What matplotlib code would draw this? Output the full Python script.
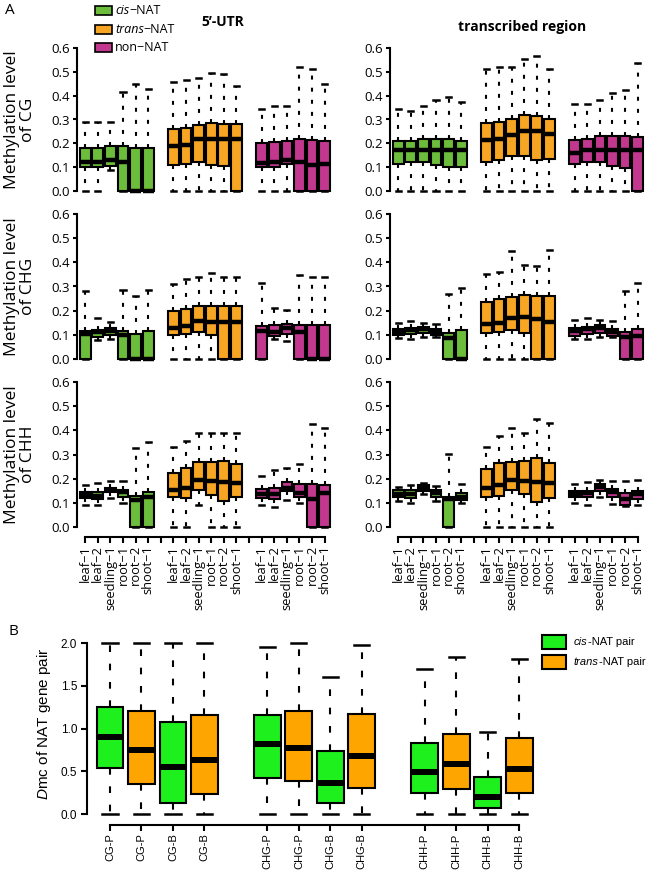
import matplotlib
matplotlib.use("Agg")
import matplotlib.pyplot as plt
from matplotlib.patches import Rectangle
from matplotlib.text import Annotation

plt.rcParams['font.family'] = ['Open Sans', 'DejaVu Sans']
plt.rcParams['mathtext.fontset'] = 'custom'
plt.rcParams['mathtext.it'] = 'Liberation Sans:italic'
plt.rcParams['mathtext.rm'] = 'Liberation Sans'

# ---- panel A data: (whislo, q1, med, q3, whishi), 6 cis, 6 trans, 6 non-NAT
samples = ["leaf−1", "leaf−2", "seedling−1", "root−1", "root−2", "shoot−1"]
contexts = ["CG", "CHG", "CHH"]
colors_a = ["#6cbd3b", "#f7a624", "#c2388f"]

cg_utr = [
    (0.0, 0.10, 0.12, 0.18, 0.29), (0.0, 0.10, 0.12, 0.18, 0.29), (0.09, 0.105, 0.128, 0.19, 0.29),
    (0.0, 0.0, 0.12, 0.187, 0.415), (0.0, 0.0, 0.0, 0.18, 0.45), (0.0, 0.0, 0.0, 0.18, 0.43),
    (0.0, 0.11, 0.19, 0.26, 0.457), (0.0, 0.115, 0.195, 0.265, 0.465), (0.0, 0.12, 0.22, 0.275, 0.475),
    (0.0, 0.11, 0.22, 0.285, 0.495), (0.0, 0.105, 0.22, 0.28, 0.49), (0.0, 0.0, 0.22, 0.28, 0.44),
    (0.0, 0.10, 0.117, 0.20, 0.345), (0.0, 0.10, 0.12, 0.205, 0.355), (0.0, 0.115, 0.13, 0.21, 0.355),
    (0.0, 0.0, 0.12, 0.22, 0.52), (0.0, 0.0, 0.11, 0.215, 0.51), (0.0, 0.0, 0.115, 0.21, 0.45),
]
cg_tr = [
    (0.0, 0.115, 0.17, 0.21, 0.345), (0.0, 0.12, 0.17, 0.21, 0.335), (0.0, 0.12, 0.17, 0.22, 0.355),
    (0.0, 0.11, 0.17, 0.22, 0.38), (0.0, 0.10, 0.17, 0.22, 0.395), (0.0, 0.10, 0.17, 0.21, 0.375),
    (0.0, 0.12, 0.215, 0.285, 0.51), (0.0, 0.13, 0.22, 0.29, 0.52), (0.0, 0.145, 0.235, 0.30, 0.52),
    (0.0, 0.145, 0.25, 0.32, 0.555), (0.0, 0.13, 0.25, 0.315, 0.565), (0.0, 0.135, 0.24, 0.30, 0.51),
    (0.0, 0.115, 0.16, 0.215, 0.365), (0.0, 0.12, 0.17, 0.22, 0.365), (0.0, 0.12, 0.17, 0.23, 0.38),
    (0.0, 0.105, 0.17, 0.23, 0.41), (0.0, 0.095, 0.17, 0.23, 0.425), (0.0, 0.0, 0.17, 0.225, 0.535),
]
chg_utr = [
    (0.0, 0.0, 0.103, 0.117, 0.28), (0.08, 0.093, 0.11, 0.12, 0.17), (0.082, 0.10, 0.114, 0.128, 0.155),
    (0.0, 0.0, 0.10, 0.117, 0.285), (0.0, 0.0, 0.0, 0.105, 0.26), (0.0, 0.0, 0.0, 0.115, 0.285),
    (0.0, 0.098, 0.13, 0.20, 0.31), (0.0, 0.103, 0.137, 0.208, 0.33), (0.0, 0.11, 0.158, 0.22, 0.34),
    (0.0, 0.10, 0.155, 0.22, 0.355), (0.0, 0.0, 0.155, 0.22, 0.34), (0.0, 0.0, 0.155, 0.22, 0.34),
    (0.0, 0.0, 0.117, 0.135, 0.313), (0.083, 0.094, 0.112, 0.14, 0.21), (0.073, 0.105, 0.128, 0.146, 0.204),
    (0.0, 0.0, 0.11, 0.142, 0.348), (0.0, 0.0, 0.0, 0.142, 0.338), (0.0, 0.0, 0.0, 0.142, 0.338),
]
chg_tr = [
    (0.086, 0.098, 0.112, 0.123, 0.15), (0.082, 0.102, 0.12, 0.13, 0.157), (0.093, 0.106, 0.123, 0.132, 0.15),
    (0.089, 0.098, 0.112, 0.123, 0.146), (0.0, 0.0, 0.086, 0.106, 0.27), (0.0, 0.0, 0.0, 0.119, 0.293),
    (0.0, 0.106, 0.143, 0.236, 0.35), (0.0, 0.113, 0.15, 0.25, 0.36), (0.0, 0.12, 0.168, 0.257, 0.446),
    (0.0, 0.106, 0.173, 0.266, 0.39), (0.0, 0.0, 0.166, 0.26, 0.386), (0.0, 0.0, 0.153, 0.26, 0.45),
    (0.082, 0.095, 0.116, 0.13, 0.16), (0.082, 0.102, 0.123, 0.134, 0.17), (0.091, 0.106, 0.127, 0.139, 0.16),
    (0.089, 0.095, 0.112, 0.125, 0.157), (0.0, 0.0, 0.089, 0.113, 0.28), (0.0, 0.0, 0.095, 0.123, 0.314),
]
chh_utr = [
    (0.092, 0.12, 0.133, 0.143, 0.175), (0.089, 0.117, 0.13, 0.143, 0.181), (0.12, 0.143, 0.154, 0.163, 0.19),
    (0.099, 0.126, 0.144, 0.154, 0.19), (0.0, 0.0, 0.113, 0.13, 0.328), (0.0, 0.0, 0.126, 0.143, 0.353),
    (0.0, 0.126, 0.154, 0.222, 0.332), (0.0, 0.122, 0.16, 0.245, 0.356), (0.092, 0.154, 0.195, 0.268, 0.387),
    (0.0, 0.133, 0.192, 0.268, 0.39), (0.0, 0.108, 0.188, 0.273, 0.39), (0.0, 0.124, 0.181, 0.26, 0.387),
    (0.092, 0.122, 0.137, 0.157, 0.209), (0.082, 0.117, 0.137, 0.163, 0.236), (0.113, 0.147, 0.163, 0.188, 0.246),
    (0.10, 0.125, 0.14, 0.18, 0.26), (0.0, 0.0, 0.115, 0.18, 0.425), (0.0, 0.0, 0.14, 0.175, 0.41),
]
chh_tr = [
    (0.106, 0.123, 0.137, 0.153, 0.165), (0.099, 0.12, 0.137, 0.153, 0.172), (0.137, 0.148, 0.162, 0.172, 0.181),
    (0.106, 0.123, 0.14, 0.153, 0.169), (0.0, 0.0, 0.116, 0.123, 0.304), (0.098, 0.112, 0.126, 0.14, 0.178),
    (0.0, 0.126, 0.16, 0.241, 0.332), (0.0, 0.13, 0.172, 0.265, 0.377), (0.0, 0.153, 0.195, 0.269, 0.409),
    (0.0, 0.137, 0.192, 0.273, 0.39), (0.0, 0.105, 0.185, 0.286, 0.446), (0.0, 0.119, 0.181, 0.265, 0.43),
    (0.099, 0.123, 0.137, 0.151, 0.176), (0.092, 0.123, 0.14, 0.151, 0.185), (0.123, 0.151, 0.167, 0.179, 0.195),
    (0.095, 0.126, 0.144, 0.158, 0.19), (0.088, 0.092, 0.116, 0.14, 0.192), (0.092, 0.116, 0.137, 0.151, 0.195),
]

# ---- panel B data
pair_labels = ["CG-P", "CG-P", "CG-B", "CG-B", "CHG-P", "CHG-P", "CHG-B", "CHG-B",
               "CHH-P", "CHH-P", "CHH-B", "CHH-B"]
dmc_stats = [
    (0.0, 0.533, 0.90, 1.255, 2.0), (0.0, 0.347, 0.745, 1.20, 2.0),
    (0.0, 0.127, 0.552, 1.073, 2.0), (0.0, 0.232, 0.63, 1.162, 2.0),
    (0.0, 0.417, 0.815, 1.162, 1.95), (0.0, 0.39, 0.776, 1.208, 2.0),
    (0.0, 0.127, 0.367, 0.734, 1.60), (0.0, 0.30, 0.676, 1.17, 1.98),
    (0.0, 0.243, 0.486, 0.834, 1.70), (0.0, 0.293, 0.579, 0.938, 1.84),
    (0.0, 0.07, 0.197, 0.429, 0.958), (0.0, 0.251, 0.521, 0.892, 1.81),
]
colors_b = ["#1ef01e", "#ffa500"]

W, H = 651, 871
fig = plt.figure(figsize=(W / 100, H / 100), dpi=100)


def px_axes(x0, y0, x1, y1):
    return fig.add_axes([x0 / W, 1 - y1 / H, (x1 - x0) / W, (y1 - y0) / H])


def to_bxp(stats):
    return [dict(whislo=s[0], q1=s[1], med=s[2], q3=s[3], whishi=s[4], fliers=[]) for s in stats]


def draw_a(ax, stats, last_row, ylabel=None):
    pos = [g * 7 + i for g in range(3) for i in range(6)]
    res = ax.bxp(to_bxp(stats), positions=pos, widths=0.85, capwidths=0.4,
                 patch_artist=True, showfliers=False,
                 boxprops=dict(linewidth=1.5, edgecolor='black'),
                 medianprops=dict(color='black', linewidth=3.2, solid_capstyle='butt'),
                 whiskerprops=dict(color='black', linewidth=1.5, linestyle=(0, (1.9, 3.9))),
                 capprops=dict(color='black', linewidth=1.8))
    for k, b in enumerate(res['boxes']):
        b.set_facecolor(colors_a[k // 6])
    for art in res['caps'] + res['whiskers'] + res['medians'] + res['boxes']:
        art.set_clip_on(False)
    ax.set_xlim(-0.65, 19.5)
    ax.set_ylim(0, 0.6)
    for s in ['top', 'right']:
        ax.spines[s].set_visible(False)
    ax.spines['left'].set_linewidth(1.5)
    ax.spines['left'].set_bounds(0, 0.6)
    ax.set_yticks([0, 0.1, 0.2, 0.3, 0.4, 0.5, 0.6])
    ax.set_yticklabels(["0.0", "0.1", "0.2", "0.3", "0.4", "0.5", "0.6"], fontsize=9.5)
    ax.tick_params(axis='y', length=3, width=1.5, pad=2)
    if last_row:
        ax.spines['bottom'].set_position(('outward', 7))
        ax.spines['bottom'].set_bounds(0, 19)
        ax.spines['bottom'].set_linewidth(1.5)
        ticks = list(range(20))
        labels = []
        for t in ticks:
            labels.append(samples[t % 7] if t % 7 < 6 else "")
        ax.set_xticks(ticks)
        ax.set_xticklabels(labels, rotation=90, fontsize=9.3)
        ax.tick_params(axis='x', length=4, width=1.5, pad=2)
    else:
        ax.spines['bottom'].set_visible(False)
        ax.set_xticks([])
    if ylabel:
        ax.set_ylabel(ylabel, fontsize=12.5, linespacing=1.0)
        ax.yaxis.set_label_coords(-0.162, 0.5)


rows = [(48, 191), (214, 359), (382, 527)]
left_data = [cg_utr, chg_utr, chh_utr]
right_data = [cg_tr, chg_tr, chh_tr]
for r, (y0, y1) in enumerate(rows):
    axl = px_axes(77, y0, 331, y1)
    draw_a(axl, left_data[r], r == 2, "Methylation level\nof " + contexts[r])
    axr = px_axes(390, y0, 644, y1)
    draw_a(axr, right_data[r], r == 2)

fig.text(223 / W, 1 - 22 / H, "5’-UTR", fontsize=10, fontweight='bold', ha='center', va='center')
fig.text(522 / W, 1 - 27 / H, "transcribed region", fontsize=10, fontweight='bold', ha='center', va='center')
fig.text(5 / W, 1 - 11 / H, "A", fontsize=11, va='center')
fig.text(8 / W, 1 - 631 / H, "B", fontsize=11, va='center')


def mixed_label(x, y, first, second, fontsize, family, first_italic=True):
    t1 = fig.text(x, y, first, fontsize=fontsize, family=family,
                  style='italic' if first_italic else 'normal', va='center', ha='left')
    t2 = Annotation(second, xy=(1, 0.5), xycoords=t1, fontsize=fontsize, family=family,
                    va='center', ha='left')
    fig.add_artist(t2)


# legend A
leg_a = [("cis", "−NAT"), ("trans", "−NAT"), ("", "non−NAT")]
for k, (it, rest) in enumerate(leg_a):
    yc = 11 + k * 18.2
    fig.add_artist(Rectangle((95 / W, 1 - (yc + 4.5) / H), 17 / W, 9 / H, transform=fig.transFigure,
                             facecolor=colors_a[k], edgecolor='black', linewidth=1.2))
    if it:
        mixed_label(115 / W, 1 - yc / H, it, rest, 9, ['Open Sans', 'DejaVu Sans'])
    else:
        fig.text(115 / W, 1 - yc / H, rest, fontsize=9, va='center', ha='left')

# panel B
axb = px_axes(87, 643, 535, 814)
pos_b = [0, 1, 2, 3, 5, 6, 7, 8, 10, 11, 12, 13]
res = axb.bxp(to_bxp(dmc_stats), positions=pos_b, widths=0.85, capwidths=0.48,
              patch_artist=True, showfliers=False,
              boxprops=dict(linewidth=1.5, edgecolor='black'),
              medianprops=dict(color='black', linewidth=4.3, solid_capstyle='butt'),
              whiskerprops=dict(color='black', linewidth=1.5, linestyle=(0, (3.2, 5.6))),
              capprops=dict(color='black', linewidth=1.8))
for k, b in enumerate(res['boxes']):
    b.set_facecolor(colors_b[k % 2])
for art in res['caps'] + res['whiskers'] + res['medians'] + res['boxes']:
    art.set_clip_on(False)
axb.set_xlim(-0.73, 13.5)
axb.set_ylim(0, 2.0)
for s in ['top', 'right']:
    axb.spines[s].set_visible(False)
axb.spines['left'].set_linewidth(1.5)
axb.spines['left'].set_bounds(0, 2.0)
axb.spines['bottom'].set_linewidth(1.5)
axb.spines['bottom'].set_position(('outward', 8))
axb.spines['bottom'].set_bounds(0, 13)
axb.set_yticks([0, 0.5, 1.0, 1.5, 2.0])
axb.set_yticklabels(["0.0", "0.5", "1.0", "1.5", "2.0"], fontsize=8.5, family='Liberation Sans')
axb.set_xticks(pos_b)
axb.set_xticklabels(pair_labels, rotation=90, fontsize=8, family='Liberation Sans')
axb.tick_params(axis='y', length=4, width=1.5, pad=3)
axb.tick_params(axis='x', length=4, width=1.5, pad=2)
axb.set_ylabel("$\\mathit{D}$mc of NAT gene pair", fontsize=11, family='Liberation Sans')
axb.yaxis.set_label_coords(-0.075, 0.53)

# legend B
leg_b = [("cis", "-NAT pair"), ("trans", "-NAT pair")]
for k, (it, rest) in enumerate(leg_b):
    yc = 642 + k * 20
    fig.add_artist(Rectangle((542 / W, 1 - (yc + 7) / H), 24 / W, 14 / H, transform=fig.transFigure,
                             facecolor=colors_b[k], edgecolor='black', linewidth=1.5))
    mixed_label(574 / W, 1 - yc / H, it, rest, 8, ['Liberation Sans'])

fig.savefig("out.png", dpi=100)
